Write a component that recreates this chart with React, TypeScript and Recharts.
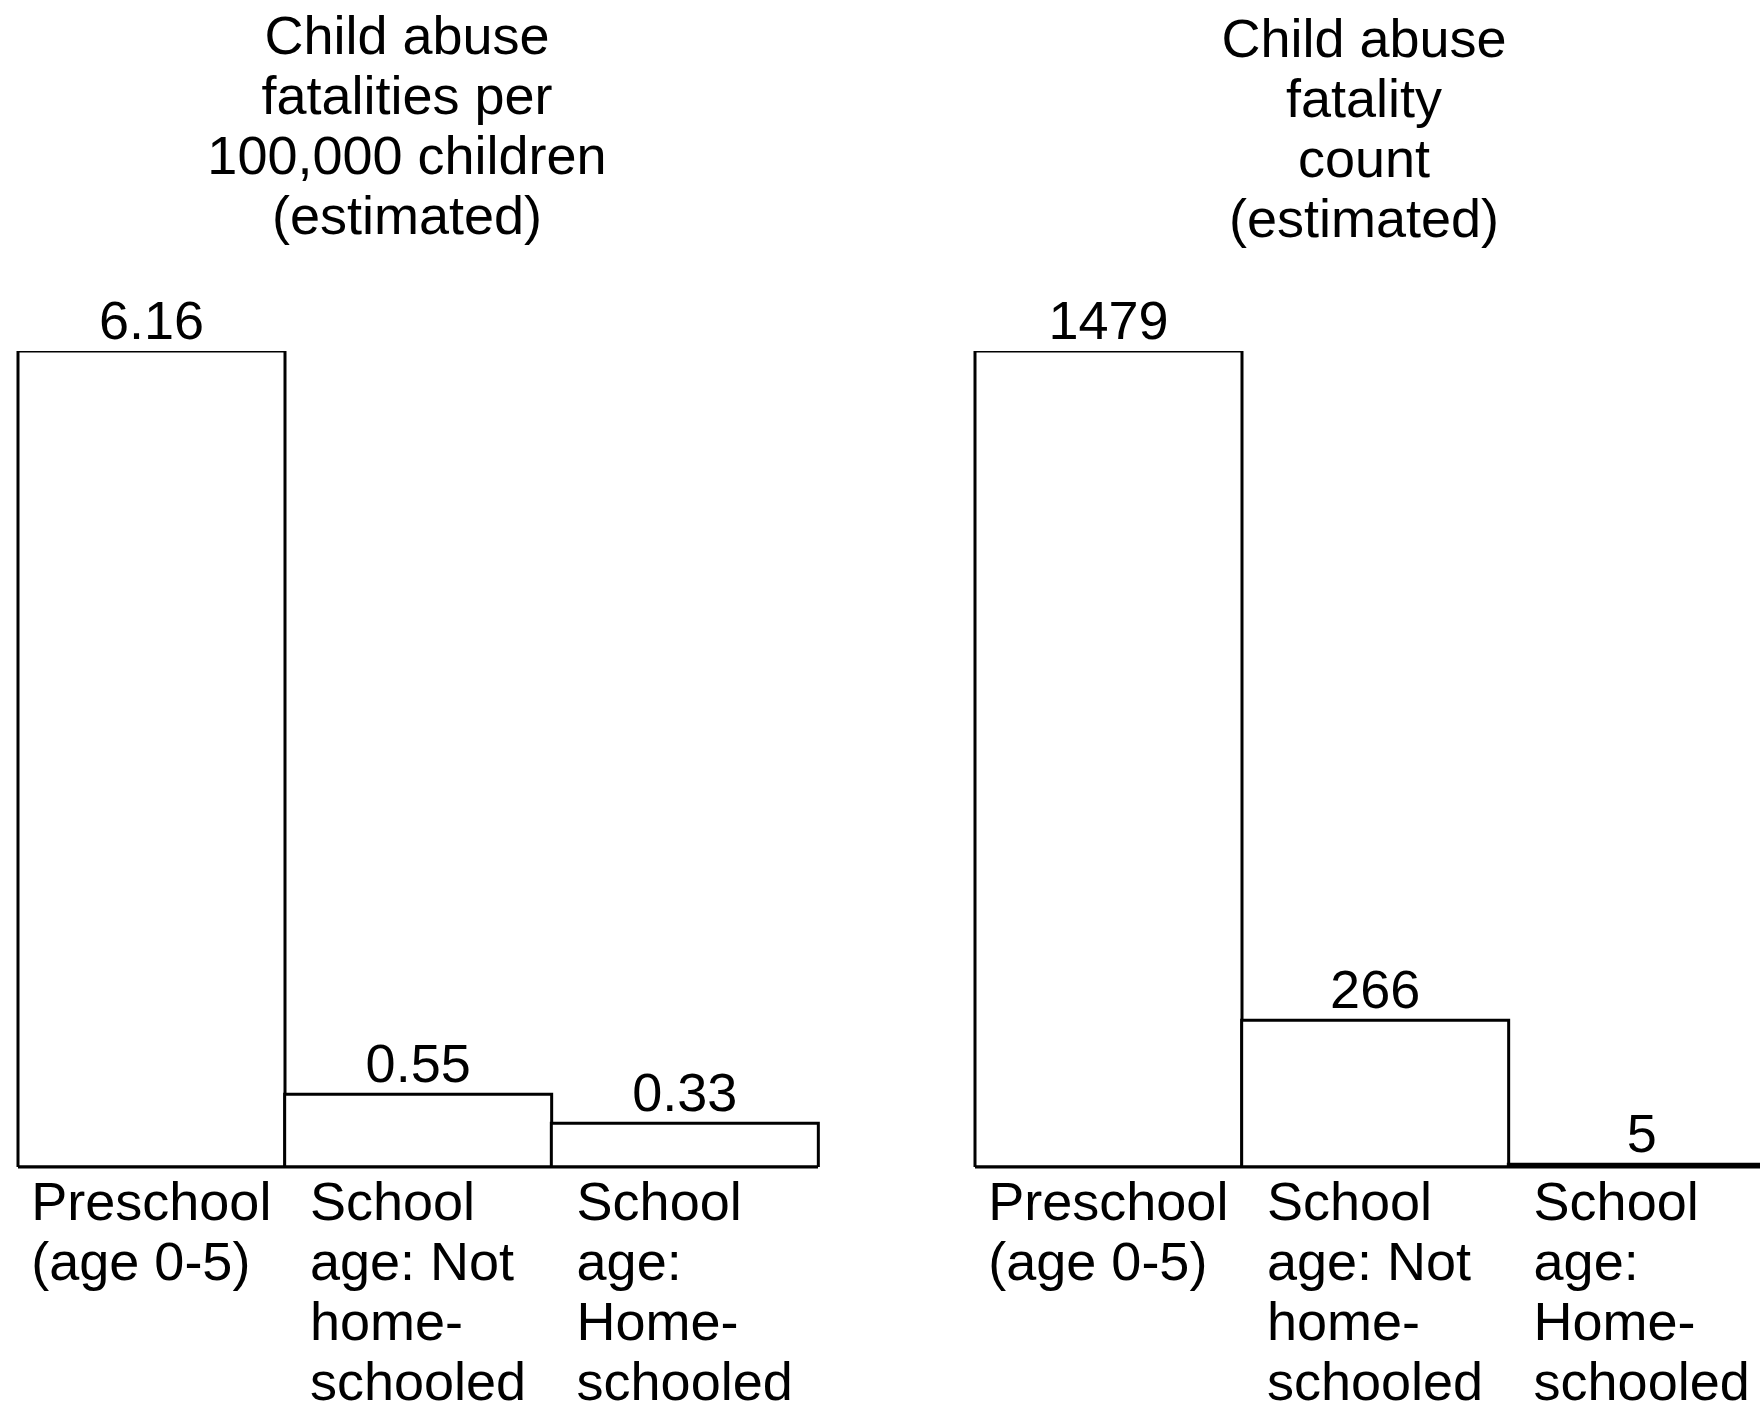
import React from "react";
import { BarChart, Bar, XAxis, YAxis, LabelList } from "recharts";

const categories = [
  "Preschool\n(age 0-5)",
  "School\nage: Not\nhome-\nschooled",
  "School\nage:\nHome-\nschooled",
];
const ratePer100k = [6.16, 0.55, 0.33];
const fatalityCount = [1479, 266, 5];
const rateTitle = ["Child abuse", "fatalities per", "100,000 children", "(estimated)"];
const countTitle = ["Child abuse", "fatality", "count", "(estimated)"];

const FONT = "'Liberation Sans', Arial, Helvetica, sans-serif";
const FONT_SIZE = 54;
const LINE_H = 60;

let canvasCtx: CanvasRenderingContext2D | null = null;
function textWidth(s: string) {
  if (!canvasCtx) {
    const c = document.createElement("canvas");
    canvasCtx = c.getContext("2d");
  }
  if (!canvasCtx) return s.length * FONT_SIZE * 0.5;
  canvasCtx.font = `${FONT_SIZE}px 'Liberation Sans', Arial, sans-serif`;
  return canvasCtx.measureText(s).width;
}

// multi-line category label: lines left aligned, block centred under the bar
const CategoryTick = (props: any) => {
  const { x, y, payload } = props;
  const lines = String(payload.value).split("\n");
  const w = Math.max(...lines.map(textWidth));
  const left = x - w / 2;
  return (
    <text x={left} y={y} fontSize={FONT_SIZE} fontFamily={FONT} fill="#000" textAnchor="start">
      {lines.map((l, i) => (
        <tspan key={i} x={left} y={y + 53 + i * LINE_H}>
          {l}
        </tspan>
      ))}
    </text>
  );
};

const ValueLabel = (props: any) => {
  const { x, y, width, value } = props;
  return (
    <text
      x={x + width / 2}
      y={y - 12}
      textAnchor="middle"
      fontSize={FONT_SIZE}
      fontFamily={FONT}
      fill="#000"
    >
      {value}
    </text>
  );
};

function Panel({ values, left }: { values: number[]; left: number }) {
  const data = categories.map((c, i) => ({ name: c, value: values[i] }));
  const max = Math.max(...values);
  return (
    <div style={{ position: "absolute", left, top: 0 }}>
      <BarChart
        width={840}
        height={1403}
        data={data}
        margin={{ top: 351, right: 22, left: 18, bottom: 0 }}
        barCategoryGap={0}
      >
        <XAxis
          dataKey="name"
          height={236}
          interval={0}
          tickLine={false}
          tickSize={0}
          tickMargin={0}
          axisLine={{ stroke: "#000", strokeWidth: 3 }}
          tick={<CategoryTick />}
        />
        <YAxis hide type="number" domain={[0, max]} allowDataOverflow />
        <Bar dataKey="value" fill="#fff" stroke="#000" strokeWidth={3} isAnimationActive={false}>
          <LabelList dataKey="value" content={<ValueLabel />} />
        </Bar>
      </BarChart>
    </div>
  );
}

function Title({ lines, center, top }: { lines: string[]; center: number; top: number }) {
  return (
    <div
      style={{
        position: "absolute",
        left: center - 400,
        width: 800,
        top,
        textAlign: "center",
        fontFamily: FONT,
        fontSize: FONT_SIZE,
        lineHeight: `${LINE_H}px`,
        color: "#000",
      }}
    >
      {lines.map((l, i) => (
        <div key={i}>{l}</div>
      ))}
    </div>
  );
}

export default function App() {
  return (
    <div
      style={{
        position: "absolute",
        left: 0,
        top: 0,
        width: 1760,
        height: 1403,
        overflow: "hidden",
        background: "#fff",
      }}
    >
      <Title lines={rateTitle} center={407} top={5} />
      <Title lines={countTitle} center={1364} top={8} />
      <Panel values={ratePer100k} left={0} />
      <Panel values={fatalityCount} left={957} />
    </div>
  );
}
